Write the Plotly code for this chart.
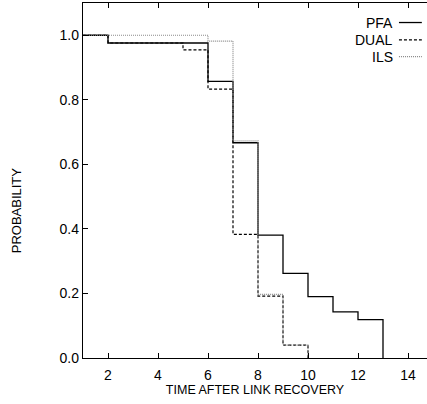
import plotly.graph_objects as go

# Data (step curves, value holds from x[i] to x[i+1])
pfa_x = [1, 2, 6, 7, 8, 9, 10, 11, 12, 13]
pfa_y = [1.0, 0.976, 0.857, 0.667, 0.381, 0.262, 0.190, 0.143, 0.119, 0.0]
dual_x = [1, 2, 5, 6, 7, 8, 9, 10]
dual_y = [1.0, 0.976, 0.955, 0.833, 0.383, 0.192, 0.040, 0.0]
ils_x = [1, 6, 7, 8, 9, 10]
ils_y = [1.0, 0.982, 0.673, 0.197, 0.040, 0.0]

x_ticks = [2, 4, 6, 8, 10, 12, 14]
y_ticks = [0.0, 0.2, 0.4, 0.6, 0.8, 1.0]
series_names = ["PFA", "DUAL", "ILS"]

FONT = "Liberation Sans, Arial, sans-serif"

fig = go.Figure()
styles = [
    dict(color="#000000", width=1.3, dash="solid"),
    dict(color="#000000", width=1.2, dash="3px,2px"),
    dict(color="#8a8a8a", width=1.2, dash="1px,1px"),
]
for (xs, ys), name, st in zip([(pfa_x, pfa_y), (dual_x, dual_y), (ils_x, ils_y)], series_names, styles):
    fig.add_trace(go.Scatter(x=xs, y=ys, mode="lines", line_shape="hv", name=name,
                             line=st, showlegend=False))

# legend drawn manually: text to the left of the line sample
leg_y = [0.945, 0.896, 0.849]
for name, st, yy in zip(series_names, styles, leg_y):
    fig.add_annotation(x=0.908, y=yy, xref="paper", yref="paper", text=name, showarrow=False,
                       xanchor="right", yanchor="middle", font=dict(family=FONT, size=14, color="black"))
    fig.add_shape(type="line", xref="paper", yref="paper", x0=0.9185, x1=0.985, y0=yy, y1=yy,
                  line=dict(color=st["color"], width=st["width"], dash=st["dash"]))

fig.add_annotation(x=-0.193, y=0.415, xref="paper", yref="paper", text="PROBABILITY", textangle=-90,
                   showarrow=False, xanchor="center", yanchor="middle",
                   font=dict(family=FONT, size=13, color="black"))

fig.update_layout(
    width=427, height=404,
    margin=dict(l=83, r=0, t=3, b=46),
    paper_bgcolor="white", plot_bgcolor="white",
    font=dict(family=FONT, size=14, color="black"),
    xaxis=dict(range=[1, 14.76], tickvals=x_ticks, ticks="inside", ticklen=5, tickwidth=1,
               tickcolor="black", showline=True, linecolor="black", linewidth=1.3, mirror="ticks",
               showgrid=False, zeroline=False, ticklabelstandoff=4,
               title=dict(text="TIME AFTER LINK RECOVERY", standoff=3,
                          font=dict(family=FONT, size=12.5))),
    yaxis=dict(range=[0, 1.1], tickvals=y_ticks, tickformat=".1f", ticks="inside", ticklen=5,
               tickwidth=1, tickcolor="black", showline=True, linecolor="black", linewidth=1.3,
               showgrid=False, zeroline=False),
)

fig.write_html("out.html")
